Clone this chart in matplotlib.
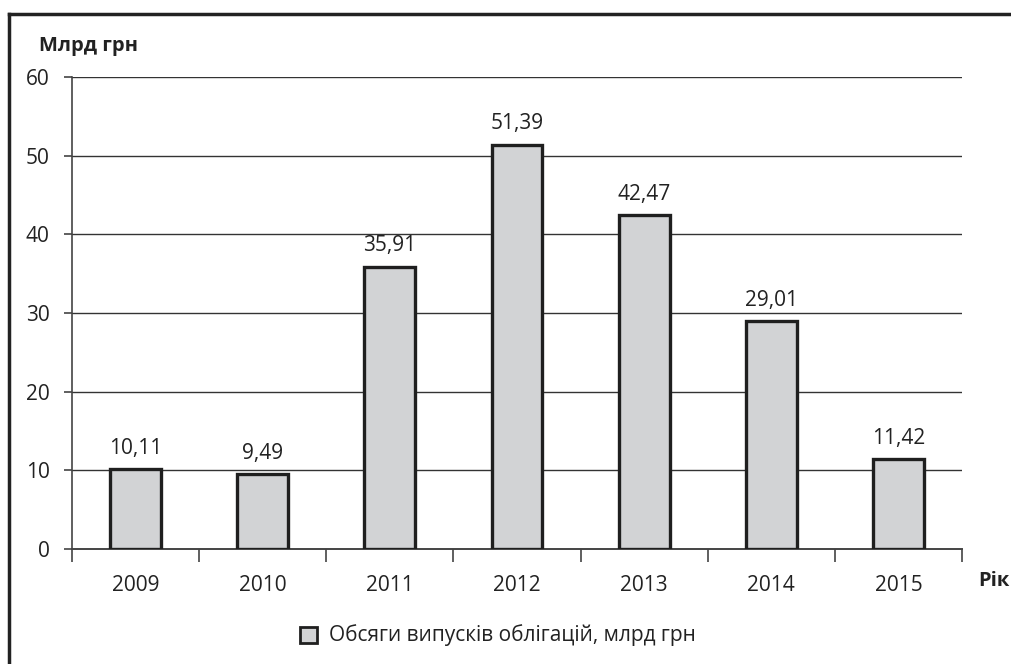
import matplotlib
matplotlib.use("Agg")
import matplotlib.pyplot as plt
from matplotlib.lines import Line2D
from matplotlib.patches import Rectangle

plt.rcParams['font.family'] = ['Open Sans', 'DejaVu Sans']

# дані
roky = ['2009', '2010', '2011', '2012', '2013', '2014', '2015']
obsyagy = [10.11, 9.49, 35.91, 51.39, 42.47, 29.01, 11.42]
pidpysy = ['10,11', '9,49', '35,91', '51,39', '42,47', '29,01', '11,42']

W, H = 1011, 664
fs = 15
fig = plt.figure(figsize=(W / 100, H / 100), dpi=100)
ax = fig.add_axes([72 / W, 1 - 549 / H, (962 - 72) / W, (549 - 77) / H])

x = list(range(len(roky)))
ax.bar(x, obsyagy, width=0.4, color='#d2d3d5', edgecolor='#1f1f1f',
       linewidth=2.4, zorder=3)
# підписи над стовпчиками
for xi, v, t in zip(x, obsyagy, pidpysy):
    ax.annotate(t, (xi, v), xytext=(0, 11), textcoords='offset points',
                ha='center', va='baseline', fontsize=fs, color='#222222')

ax.set_xlim(-0.5, len(roky) - 0.5)
ax.set_ylim(0, 60)
ax.set_yticks(range(0, 61, 10))
for y in range(10, 61, 10):
    ax.axhline(y, color='#333333', linewidth=1.0, zorder=1)

ax.set_xticks(x)
ax.set_xticklabels(roky, fontsize=fs, color='#222222')
ax.tick_params(axis='x', length=0, pad=19)
ax.set_xticks([i - 0.5 for i in range(len(roky) + 1)], minor=True)
ax.tick_params(axis='x', which='minor', length=9, width=1.2, color='#444444')
ax.tick_params(axis='y', length=6, width=1.2, color='#444444', labelsize=fs,
               labelcolor='#222222', pad=10)

for s in ['top', 'right']:
    ax.spines[s].set_visible(False)
ax.spines['left'].set_color('#444444')
ax.spines['bottom'].set_color('#444444')
ax.spines['left'].set_linewidth(1.2)
ax.spines['bottom'].set_linewidth(1.4)

fig.text(39 / W, 1 - 46 / H, 'Млрд грн', fontsize=14.5, fontweight='bold',
         ha='left', va='center', color='#222222')
fig.text(978 / W, 1 - 581 / H, 'Рік', fontsize=14.5, fontweight='bold',
         ha='left', va='center', color='#222222')

# легенда
fig.patches.append(Rectangle((300 / W, 1 - 643 / H), 17 / W, 16 / H,
                             transform=fig.transFigure, facecolor='#d2d3d5',
                             edgecolor='#1f1f1f', linewidth=2))
fig.text(329 / W, 1 - 635 / H, 'Обсяги випусків облігацій, млрд грн',
         fontsize=fs, ha='left', va='center', color='#222222')

# рамка
fig.lines.append(Line2D([9 / W, 9 / W], [0, 1 - 14 / H], transform=fig.transFigure,
                        color='#222222', linewidth=2.5))
fig.lines.append(Line2D([9 / W, 1], [1 - 14 / H, 1 - 14 / H],
                        transform=fig.transFigure, color='#222222', linewidth=2.5))

fig.savefig('out.png', dpi=100)
